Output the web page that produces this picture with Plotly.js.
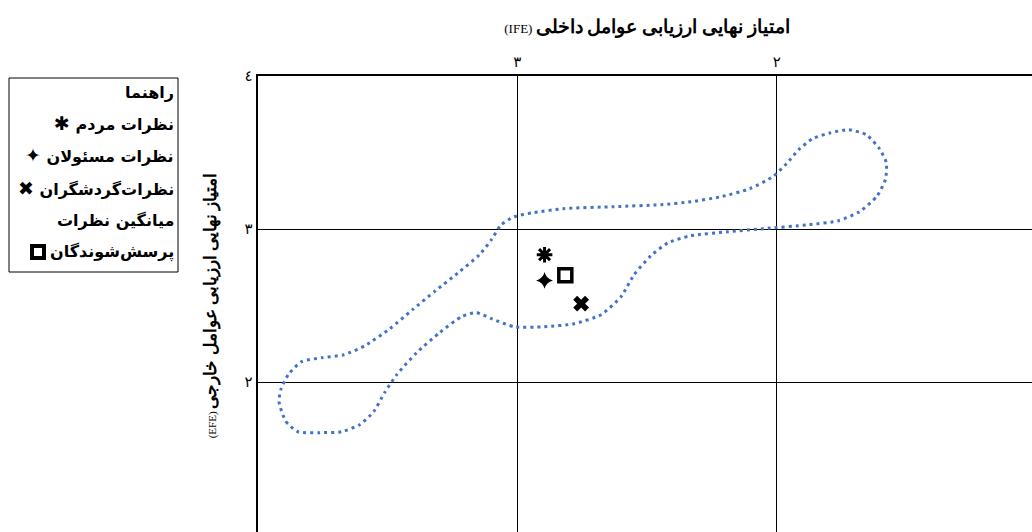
<!DOCTYPE html>
<html>
<head>
<meta charset="utf-8">
<script src="https://cdn.plot.ly/plotly-3.0.1.min.js"></script>
<style>
html,body{margin:0;padding:0;overflow:hidden;background:#fff;}
#chart{width:1040px;height:540px;}
</style>
</head>
<body>
<div id="chart"></div>
<script>
// ---- data ----
const loopIFE = [3.919,3.892,3.846,3.762,3.677,3.608,3.554,3.512,3.465,3.388,3.300,3.215,3.158,3.100,3.012,2.896,2.781,2.677,2.600,2.550,2.485,2.419,2.331,2.188,2.050,1.877,1.762,1.681,1.615,1.581,1.577,1.604,1.654,1.723,1.792,1.862,1.915,1.962,2.015,2.104,2.215,2.331,2.446,2.627,2.823,2.938,3.012,3.062,3.100,3.146,3.223,3.315,3.404,3.492,3.588,3.669,3.754,3.831,3.881,3.912,3.919];
const loopEFE = [1.871,1.741,1.675,1.669,1.675,1.721,1.806,1.930,2.048,2.192,2.322,2.427,2.453,2.414,2.361,2.361,2.381,2.440,2.558,2.701,2.825,2.910,2.956,2.982,3.002,3.028,3.054,3.113,3.211,3.322,3.433,3.525,3.616,3.649,3.629,3.590,3.518,3.427,3.342,3.263,3.211,3.178,3.159,3.146,3.133,3.107,3.080,3.028,2.930,2.832,2.721,2.597,2.473,2.348,2.237,2.178,2.159,2.133,2.054,1.950,1.871];

const groups = ['نظرات مردم','نظرات مسئولان','نظرات‌گردشگران','میانگین نظرات پرسش‌شوندگان'];
const ifeScores = [2.895, 2.895, 2.754, 2.815];
const efeScores = [2.832, 2.664, 2.512, 2.697];

const xTickValues = [1, 2, 3];
const xTickLabels = ['١', '٢', '٣'];
const yTickValues = [1, 2, 3, 4];
const yTickLabels = ['١', '٢', '٣', '٤'];

const legendTitle = 'راهنما';
const legendLines = ['نظرات مردم', 'نظرات مسئولان', 'نظرات‌گردشگران', 'میانگین نظرات', 'پرسش‌شوندگان'];

const xTitle = 'امتیاز نهایی ارزیابی عوامل داخلی';
const yTitle = 'امتیاز نهایی ارزیابی عوامل خارجی';

// ---- styles ----
const W = 1040, H = 540;
const M = {l:258, r:4, t:76, b:5};
const PW = W - M.l - M.r, PH = H - M.t - M.b;
const px2x = p => (p - M.l) / PW;
const px2y = p => 1 - (p - M.t) / PH;
const FONT = '"DejaVu Sans", "Noto Sans", sans-serif';
const SERIF = '"Liberation Serif", "DejaVu Serif", serif';

const symbols = ['asterisk-open', 'star-diamond', 'x', 'square-open'];
const sizes = [13, 12, 14, 13];
const lineW = [3, 0, 0, 3.5];
const glyphs = ['✱', '✦', '✖', null];

const traces = [{
  x: loopIFE, y: loopEFE, mode: 'lines', type: 'scatter',
  line: {color: '#4472C4', width: 3, dash: '3px,4px', shape: 'spline', smoothing: 0.6},
  hoverinfo: 'skip', showlegend: false
}];
groups.forEach((g, i) => {
  traces.push({
    x: [ifeScores[i]], y: [efeScores[i]], mode: 'markers', type: 'scatter', name: g,
    marker: {symbol: symbols[i], size: sizes[i], color: '#000',
             line: {color: '#000', width: lineW[i]}},
    showlegend: false
  });
});

// legend drawn as box + text
const ctx = document.createElement('canvas').getContext('2d');
const LFS = 16;
ctx.font = 'bold ' + LFS + 'px "DejaVu Sans"';
const rowY = [93, 123, 155, 188, 220, 252];
const textRight = 176;
const annotations = [];
annotations.push({xref:'paper', yref:'paper', x: px2x(textRight), y: px2y(rowY[0]),
  xanchor:'right', yanchor:'middle', showarrow:false,
  text: '<b>' + legendTitle + '</b>', font:{family: FONT, size: LFS, color:'#000'}});
legendLines.forEach((t, i) => {
  const g = i < 3 ? glyphs[i] : null;
  const txt = g ? ('<b><span style="font-size:19px">' + g + '</span> ' + t + '</b>') : ('<b>' + t + '</b>');
  annotations.push({xref:'paper', yref:'paper', x: px2x(textRight), y: px2y(rowY[i+1]),
    xanchor:'right', yanchor:'middle', showarrow:false, text: txt,
    font:{family: FONT, size: LFS, color:'#000'}});
});
// hollow square next to last line
const wLast = ctx.measureText(legendLines[4]).width;
annotations.push({xref:'paper', yref:'paper', x: px2x(textRight - wLast - 6), y: px2y(rowY[5]),
  xanchor:'right', yanchor:'middle', showarrow:false, text:' ', width: 8, height: 8,
  borderpad: 0, borderwidth: 4, bordercolor:'#000', bgcolor:'#fff', font:{size:4}});

const shapes = [{type:'rect', xref:'paper', yref:'paper',
  x0: px2x(9), x1: px2x(178), y0: px2y(272), y1: px2y(78),
  line:{color:'#000', width:1}, fillcolor:'rgba(0,0,0,0)'}];

const layout = {
  width: W, height: H, margin: M,
  paper_bgcolor:'#fff', plot_bgcolor:'#fff',
  showlegend: false,
  xaxis: {
    side:'top', range:[4, 1], tickvals: xTickValues, ticktext: xTickLabels,
    showgrid:true, gridcolor:'#000', gridwidth:1, zeroline:false,
    showline:true, linecolor:'#000', linewidth:2.5, ticks:'', ticklabelstandoff: 1,
    tickfont:{family: FONT, size:15, color:'#000'},
    title:{text: '(IFE) <b><span style="font-size:19px">' + xTitle + '</span></b>',
           font:{family: SERIF, size:13, color:'#000'}, standoff: 16}
  },
  yaxis: {
    range:[1, 4], tickvals: yTickValues, ticktext: yTickLabels,
    showgrid:true, gridcolor:'#000', gridwidth:1, zeroline:false,
    showline:true, linecolor:'#000', linewidth:2.5, ticks:'',
    tickfont:{family: FONT, size:15, color:'#000'},
    title:{text: '(EFE) <b><span style="font-size:17px">' + yTitle + '</span></b>',
           font:{family: SERIF, size:11, color:'#000'}, standoff: 26}
  },
  annotations: annotations,
  shapes: shapes
};

Plotly.newPlot('chart', traces, layout, {staticPlot:true, displayModeBar:false});
</script>
</body>
</html>
